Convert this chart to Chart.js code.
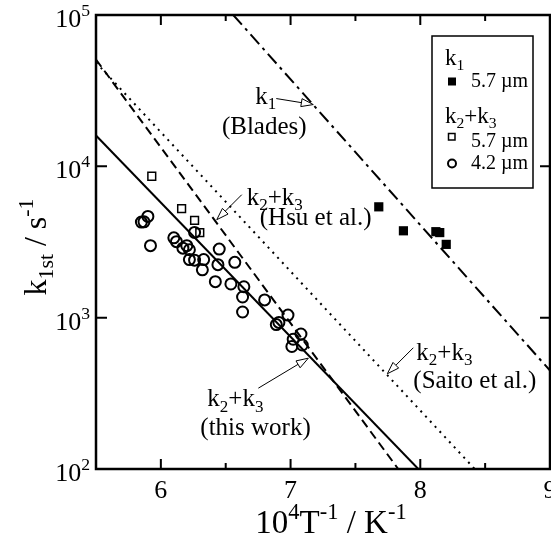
<!DOCTYPE html>
<html>
<head>
<meta charset="utf-8">
<script src="https://cdn.jsdelivr.net/npm/chart.js@4.4.1/dist/chart.umd.min.js"></script>
<style>html,body{margin:0;padding:0;background:#fff}</style>
</head>
<body>
<canvas id="chart" width="551" height="541"></canvas>
<script>
// k1, 5.7 um (filled squares)
const k1X = [7.68, 7.87, 8.12, 8.15, 8.20];
const k1Y = [5400, 3750, 3700, 3650, 3050];
// k2+k3, 5.7 um (open squares)
const sqX = [5.93, 6.16, 6.26, 6.30];
const sqY = [8600, 5250, 4400, 3650];
// k2+k3, 4.2 um (open circles)
const circX = [5.85, 5.87, 5.90, 5.92, 6.10, 6.12, 6.17, 6.20, 6.22, 6.22, 6.26, 6.26, 6.33, 6.32, 6.45,
               6.44, 6.42, 6.57, 6.54, 6.64, 6.63, 6.63, 6.80, 6.89, 6.91, 6.98, 7.02, 7.08, 7.01, 7.09];
const circY = [4280, 4300, 4670, 2990, 3370, 3180, 2880, 2990, 2810, 2420, 3660, 2400, 2420, 2070, 2840,
               2240, 1730, 2320, 1670, 1600, 1370, 1090, 1310, 900, 930, 1040, 720, 780, 645, 660];
// fitted / literature lines (end points)
const thisWorkX = [5.5, 7.985], thisWorkY = [16000, 100];
const hsuX = [5.5, 7.83], hsuY = [50800, 100];
const saitoX = [5.5, 8.42], saitoY = [48500, 100];
const bladesX = [6.558, 9], bladesY = [100000, 447];
// ticks
const xMajor = [6, 7, 8, 9];
const xMinor = [6.5, 7.5, 8.5];
const yDecades = [100, 1000, 10000, 100000];

const FONT = '"Liberation Serif", "Times New Roman", serif';
const pts = (xs, ys) => xs.map((x, i) => ({ x: x, y: ys[i] }));

function richWidth(ctx, runs, size) {
    let w = 0;
    for (const [t, s] of runs) {
        ctx.font = (s ? size * 0.68 : size) + 'px ' + FONT;
        w += ctx.measureText(t).width;
    }
    return w;
}
function drawRich(ctx, runs, x, y, size, align) {
    const w = richWidth(ctx, runs, size);
    let cx = align === 'center' ? x - w / 2 : align === 'right' ? x - w : x;
    ctx.textAlign = 'left';
    ctx.textBaseline = 'alphabetic';
    for (const [t, s] of runs) {
        const fs = s ? size * 0.68 : size;
        ctx.font = fs + 'px ' + FONT;
        const dy = s < 0 ? size * 0.22 : s > 0 ? -size * 0.42 : 0;
        ctx.fillText(t, cx, y + dy);
        cx += ctx.measureText(t).width;
    }
}
function arrow(ctx, x0, y0, x1, y1) {
    const a = Math.atan2(y1 - y0, x1 - x0), L = 12, W = 4;
    ctx.lineWidth = 1;
    ctx.beginPath(); ctx.moveTo(x0, y0); ctx.lineTo(x1 - L * Math.cos(a), y1 - L * Math.sin(a)); ctx.stroke();
    ctx.beginPath();
    ctx.moveTo(x1, y1);
    ctx.lineTo(x1 - L * Math.cos(a) + W * Math.sin(a), y1 - L * Math.sin(a) - W * Math.cos(a));
    ctx.lineTo(x1 - L * Math.cos(a) - W * Math.sin(a), y1 - L * Math.sin(a) + W * Math.cos(a));
    ctx.closePath();
    ctx.fillStyle = '#fff'; ctx.fill(); ctx.stroke();
}

const K23 = [['k', 0], ['2', -1], ['+', 0], ['k', 0], ['3', -1]];
// arrow tip (data) + tail / text offsets (px)
const notes = [
    { tip: [7.175, 25600], tail: [-37, -6], lines: [[[['k', 0], ['1', -1]], -58, -1, 'left'], [[['(Blades)', 0]], -49, 29, 'center']] },
    { tip: [6.431, 4440], tail: [25, -25], lines: [[K23, 30, -15, 'left'], [[['(Hsu et al.)', 0]], 43, 5, 'left']] },
    { tip: [7.746, 426], tail: [26, -26], lines: [[K23, 29, -14, 'left'], [[['(Saito et al.)', 0]], 26, 14, 'left']] },
    { tip: [7.137, 540], tail: [-50, 30], lines: [[K23, -101, 48, 'left'], [[['(this work)', 0]], -108, 77, 'left']] }
];

const decor = {
    id: 'decor',
    afterDraw(chart) {
        const ctx = chart.ctx, a = chart.chartArea;
        const xs = chart.scales.x, ys = chart.scales.y;
        ctx.save();
        ctx.strokeStyle = '#000'; ctx.fillStyle = '#000';
        // frame
        ctx.lineWidth = 2.5;
        ctx.strokeRect(a.left, a.top, a.right - a.left, a.bottom - a.top);
        // ticks
        ctx.lineWidth = 2;
        ctx.beginPath();
        xMajor.forEach(v => { const p = xs.getPixelForValue(v);
            ctx.moveTo(p, a.bottom); ctx.lineTo(p, a.bottom - 10); ctx.moveTo(p, a.top); ctx.lineTo(p, a.top + 10); });
        xMinor.forEach(v => { const p = xs.getPixelForValue(v);
            ctx.moveTo(p, a.bottom); ctx.lineTo(p, a.bottom - 6); ctx.moveTo(p, a.top); ctx.lineTo(p, a.top + 6); });
        yDecades.forEach(v => { const p = ys.getPixelForValue(v);
            ctx.moveTo(a.left, p); ctx.lineTo(a.left + 11, p); ctx.moveTo(a.right, p); ctx.lineTo(a.right - 10, p); });
        ctx.stroke();
        // tick labels
        ctx.fillStyle = '#000';
        xMajor.forEach(v => drawRich(ctx, [[String(v), 0]], xs.getPixelForValue(v), a.bottom + 29, 26, 'center'));
        yDecades.forEach(v => drawRich(ctx, [['10', 0], [String(Math.round(Math.log10(v))), 1]],
            a.left - 6, ys.getPixelForValue(v) + 12, 26, 'right'));
        // axis titles
        drawRich(ctx, [['10', 0], ['4', 1], ['T', 0], ['-1', 1], [' / K', 0], ['-1', 1]], 331, 533, 33, 'center');
        ctx.save();
        ctx.translate(46, 247); ctx.rotate(-Math.PI / 2);
        drawRich(ctx, [['k', 0], ['1st', -1], [' / s', 0], ['-1', 1]], 0, 0, 32, 'center');
        ctx.restore();
        // annotations
        notes.forEach(n => {
            const tx = xs.getPixelForValue(n.tip[0]), ty = ys.getPixelForValue(n.tip[1]);
            ctx.strokeStyle = '#000';
            arrow(ctx, tx + n.tail[0], ty + n.tail[1], tx, ty);
            ctx.fillStyle = '#000';
            n.lines.forEach(([runs, dx, dy, al]) => drawRich(ctx, runs, tx + dx, ty + dy, 25, al));
        });
        // legend
        ctx.lineWidth = 1.5; ctx.strokeStyle = '#000';
        ctx.strokeRect(432, 36, 101, 152);
        ctx.fillStyle = '#000';
        drawRich(ctx, [['k', 0], ['1', -1]], 445, 65, 23, 'left');
        ctx.fillRect(448, 77.5, 8, 8);
        drawRich(ctx, [['5.7 \u00b5m', 0]], 471, 87, 20, 'left');
        drawRich(ctx, K23, 445, 123, 23, 'left');
        ctx.lineWidth = 1.5;
        ctx.strokeRect(448.5, 133.5, 6.5, 6.5);
        drawRich(ctx, [['5.7 \u00b5m', 0]], 471, 147, 20, 'left');
        ctx.lineWidth = 2;
        ctx.beginPath(); ctx.arc(452, 163.5, 4, 0, Math.PI * 2); ctx.stroke();
        drawRich(ctx, [['4.2 \u00b5m', 0]], 471, 169, 20, 'left');
        ctx.restore();
    }
};

const lineDs = (xs, ys, dash) => ({
    data: pts(xs, ys), showLine: true, pointRadius: 0, borderColor: '#000',
    borderWidth: 2, borderDash: dash, fill: false
});

new Chart(document.getElementById('chart').getContext('2d'), {
    type: 'scatter',
    data: {
        datasets: [
            lineDs(thisWorkX, thisWorkY, []),
            lineDs(hsuX, hsuY, [9, 5]),
            lineDs(saitoX, saitoY, [2, 5]),
            lineDs(bladesX, bladesY, [13, 5, 3, 5]),
            { data: pts(k1X, k1Y), pointStyle: 'rect', pointRadius: 6.5, backgroundColor: '#000', borderColor: '#000', borderWidth: 0 },
            { data: pts(sqX, sqY), pointStyle: 'rect', pointRadius: 5.5, backgroundColor: 'rgba(0,0,0,0)', borderColor: '#000', borderWidth: 1.5 },
            { data: pts(circX, circY), pointStyle: 'circle', pointRadius: 5.5, backgroundColor: 'rgba(0,0,0,0)', borderColor: '#000', borderWidth: 2 }
        ]
    },
    options: {
        responsive: false,
        animation: false,
        devicePixelRatio: 1,
        layout: { autoPadding: false, padding: { left: 96, top: 15, right: 1, bottom: 72 } },
        plugins: { legend: { display: false }, tooltip: { enabled: false } },
        scales: {
            x: {
                type: 'linear', min: 5.5, max: 9,
                ticks: { display: false }, grid: { display: false }, border: { display: false },
                afterFit: s => { s.height = 0; }
            },
            y: {
                type: 'logarithmic', min: 100, max: 100000,
                ticks: { display: false }, grid: { display: false }, border: { display: false },
                afterFit: s => { s.width = 0; }
            }
        }
    },
    plugins: [decor]
});
</script>
</body>
</html>
